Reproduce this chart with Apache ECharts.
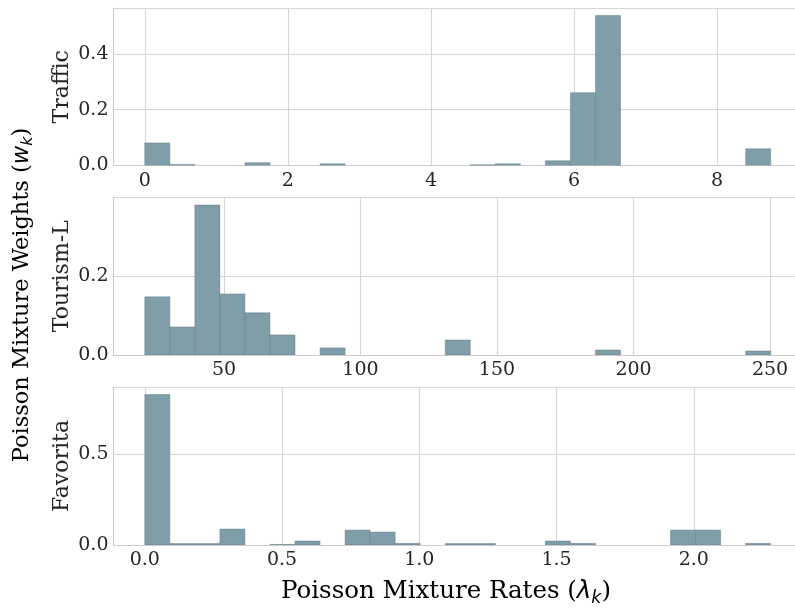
<!DOCTYPE html>
<html>
<head>
<meta charset="utf-8">
<script src="https://cdn.jsdelivr.net/npm/echarts@6/dist/echarts.min.js"></script>
<style>html,body{margin:0;padding:0;background:#fff}#c{width:795px;height:610px}</style>
</head>
<body>
<div id="c"></div>
<script>
// ---- data ----
const panelNames = ['Traffic', 'Tourism-L', 'Favorita'];

// Traffic: bin width 0.35
const trafficBinWidth = 0.35;
const trafficLeft    = [0, 0.35, 1.40, 2.45, 4.55, 4.90, 5.60, 5.95, 6.30, 8.40];
const trafficWeights = [0.081, 0.004, 0.010, 0.006, 0.0025, 0.006, 0.017, 0.261, 0.538, 0.060];
const trafficTicks   = [0, 2, 4, 6, 8];

// Tourism-L: bin width 9.17
const tourismBinWidth = 9.17;
const tourismLeft    = [21, 30.17, 39.34, 48.51, 57.68, 66.85, 85.19, 131.04, 186.06, 241.08];
const tourismWeights = [0.1475, 0.0712, 0.3805, 0.155, 0.107, 0.051, 0.018, 0.038, 0.0127, 0.0102];
const tourismTicks   = [50, 100, 150, 200, 250];

// Favorita: bin width 0.0912
const favoritaBinWidth = 0.0912;
const favoritaLeft    = [0, 0.0912, 0.1824, 0.2736, 0.456, 0.5472, 0.7296, 0.8208, 0.912, 1.0944, 1.1856, 1.4592, 1.5504, 1.9152, 2.0064, 2.1888];
const favoritaWeights = [0.8266, 0.008, 0.008, 0.0876, 0.003, 0.022, 0.082, 0.071, 0.009, 0.008, 0.008, 0.022, 0.009, 0.082, 0.082, 0.009];
const favoritaTicks   = [0.0, 0.5, 1.0, 1.5, 2.0];

const yTickStep = [0.2, 0.2, 0.5];

// ---- build ----
const FONT = 'DejaVu Serif';
const TXT = '#262626';
const GRIDC = '#d6d6d6';
const FRAME = '#cccccc';
const BAR = '#7f9ea8';

// the original axes extend past the right edge of the figure (to ~802px),
// so only this fraction of the full x-range is visible in the 795px window
const AX_LEFT = 113.5, AX_FULL_W = 688.5, AX_VIS_W = 795 - AX_LEFT;

const panels = [
  {left: trafficLeft, w: trafficWeights, bw: trafficBinWidth, ticks: trafficTicks, dec: 0},
  {left: tourismLeft, w: tourismWeights, bw: tourismBinWidth, ticks: tourismTicks, dec: 0},
  {left: favoritaLeft, w: favoritaWeights, bw: favoritaBinWidth, ticks: favoritaTicks, dec: 1}
];
// axis extents with 5% margins like matplotlib
panels.forEach(p => {
  const lo = Math.min(...p.left), hi = Math.max(...p.left) + p.bw;
  const span = hi - lo;
  p.xmin = lo - 0.05 * span;
  const fullMax = hi + 0.05 * span;
  p.xmax = p.xmin + (fullMax - p.xmin) * (AX_VIS_W / AX_FULL_W);
  p.ymax = Math.max(...p.w) * 1.05;
});

const gridTops = [8, 197.5, 387];
const gridH = [157.5, 157.5, 158];

function renderItem(params, api) {
  const x0 = api.value(0), x1 = api.value(1), h = api.value(2);
  const p0 = api.coord([x0, h]);
  const p1 = api.coord([x1, 0]);
  return {
    type: 'rect',
    shape: {x: p0[0], y: p0[1], width: p1[0] - p0[0], height: p1[1] - p0[1]},
    style: {fill: BAR, stroke: 'rgba(90,120,130,0.55)', lineWidth: 0.8}
  };
}

const option = {
  animation: false,
  backgroundColor: '#fff',
  grid: panels.map((p, i) => ({
    left: AX_LEFT, width: AX_VIS_W, top: gridTops[i], height: gridH[i],
    show: false, containLabel: false
  })),
  xAxis: panels.map((p, i) => ({
    type: 'value', gridIndex: i, min: p.xmin, max: p.xmax,
    axisLine: {show: true, onZero: false, lineStyle: {color: FRAME, width: 1.1}},
    axisTick: {show: false, customValues: p.ticks},
    axisLabel: {
      customValues: p.ticks, color: TXT, fontFamily: FONT, fontSize: 19, margin: 6,
      formatter: v => Number(v).toFixed(p.dec)
    },
    splitLine: {show: true, lineStyle: {color: GRIDC, width: 1.1}}
  })),
  yAxis: panels.map((p, i) => ({
    type: 'value', gridIndex: i, min: 0, max: p.ymax, interval: yTickStep[i],
    name: panelNames[i], nameLocation: 'middle', nameRotate: 90, nameGap: 40,
    nameMoveOverlap: false,
    nameTextStyle: {fontFamily: FONT, fontSize: 22, color: TXT},
    axisLine: {show: true, onZero: false, lineStyle: {color: FRAME, width: 1.1}},
    axisTick: {show: false},
    axisLabel: {color: TXT, fontFamily: FONT, fontSize: 19, margin: 5, showMaxLabel: false,
      formatter: v => Number(v).toFixed(1)},
    splitLine: {show: true, lineStyle: {color: GRIDC, width: 1.1}}
  })),
  series: panels.map((p, i) => ({
    type: 'custom', xAxisIndex: i, yAxisIndex: i,
    renderItem: renderItem,
    encode: {x: [0, 1], y: 2},
    data: p.left.map((l, j) => [l, l + p.bw, p.w[j]]),
    clip: true
  })),
  graphic: [
    {
      type: 'text', x: 22, y: 295, rotation: Math.PI / 2,
      style: {
        text: '{a|Poisson Mixture Weights (}{i|w}{s|k}{a|)}',
        align: 'center', verticalAlign: 'middle',
        rich: {
          a: {fontFamily: FONT, fontSize: 22.5, color: TXT, lineHeight: 28},
          i: {fontFamily: 'DejaVu Sans', fontStyle: 'italic', fontSize: 22.5, color: TXT, lineHeight: 28},
          s: {fontFamily: 'DejaVu Sans', fontStyle: 'italic', fontSize: 16, color: TXT, lineHeight: 16, verticalAlign: 'bottom'}
        }
      }
    },
    {
      type: 'text', x: 446, y: 592,
      style: {
        text: '{a|Poisson Mixture Rates (}{i|λ}{s|k}{a|)}',
        align: 'center', verticalAlign: 'middle',
        rich: {
          a: {fontFamily: FONT, fontSize: 24.5, color: TXT, lineHeight: 30},
          i: {fontFamily: 'DejaVu Sans', fontStyle: 'italic', fontSize: 24.5, color: TXT, lineHeight: 30},
          s: {fontFamily: 'DejaVu Sans', fontStyle: 'italic', fontSize: 17.5, color: TXT, lineHeight: 17, verticalAlign: 'bottom'}
        }
      }
    }
  ]
};

const chart = echarts.init(document.getElementById('c'), null, {renderer: 'canvas'});
chart.setOption(option);
</script>
</body>
</html>
